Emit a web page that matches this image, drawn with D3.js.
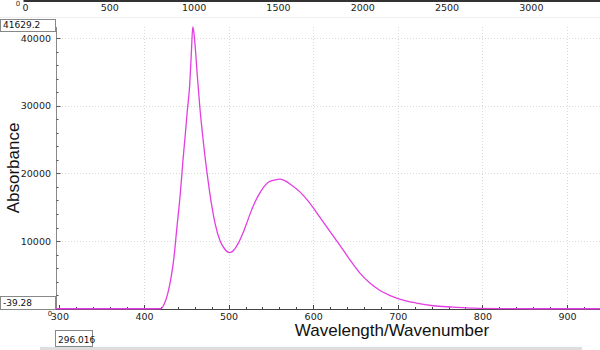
<!DOCTYPE html>
<html><head><meta charset="utf-8">
<script src="https://cdn.jsdelivr.net/npm/d3@7"></script>
<style>body{margin:0;background:#fff}svg{display:block}</style>
</head><body><svg id="c" width="600" height="350"></svg>
<script>
const wavelengths = [296,320,350,380,400,415,420,424,428,432,435,439,443,446,449,451,454,456,457.7,459,461,463,466,469,472,476,480,484,490,495,501,503,506,509,512,515,518,521,526,531,536,541,547,554,561,567,573,584,596,608,620,632,643,655,667,679,691,702,722,742,765,790,820,860,900,939];
const absorbance = [0,0,0,0,0,0,20,700,2200,4600,7100,12100,17100,21800,26000,29000,33000,37800,41629,40800,38000,34500,29800,26000,22600,18700,15300,12600,10000,8900,8300,8350,8650,9150,9800,10600,11500,12500,14200,15700,16900,17900,18700,19000,19150,18900,18400,17300,15600,13500,11400,9300,7300,5300,3800,2700,1950,1430,840,440,250,80,20,0,0,0];
const xTicks = [300,400,500,600,700,800,900];
const yTicks = [10000,20000,30000,40000];
const topTicks = [0,500,1000,1500,2000,2500,3000];
const xMin = 296.016, xMax = 939, yMin = -39.28, yMax = 41629.2;

const svg = d3.select("#c");
const L = 56, R = 600, T = 27, B = 309;
const x = d3.scaleLinear().domain([xMin, xMax]).range([L, R]);
const y = d3.scaleLinear().domain([yMin, yMax]).range([B, T]);
const xt = d3.scaleLinear().domain([-12, 3410]).range([23, 600]);

// panel separator
svg.append("line").attr("x1",0).attr("x2",600).attr("y1",17.5).attr("y2",17.5).attr("stroke","#eee");

// grid
const g = svg.append("g");
g.selectAll(".vg").data(xTicks.filter(d=>d>300)).join("line")
  .attr("x1",d=>Math.round(x(d))+0.5).attr("x2",d=>Math.round(x(d))+0.5)
  .attr("y1",T).attr("y2",B).attr("stroke","#d8d8d8").attr("stroke-dasharray","1,2");
g.selectAll(".hg").data(yTicks).join("line")
  .attr("y1",d=>Math.round(y(d))+0.5).attr("y2",d=>Math.round(y(d))+0.5)
  .attr("x1",L).attr("x2",R).attr("stroke","#d8d8d8").attr("stroke-dasharray","1,2");

// top axis
const topAxis = d3.axisBottom(xt).tickValues(topTicks).tickSize(0).tickPadding(4).tickFormat(d3.format("d"));
const ta = svg.append("g").attr("transform","translate(0,0.5)").call(topAxis);
ta.select(".domain").attr("stroke","#333").attr("stroke-width",2);
ta.selectAll("text").attr("font-family","DejaVu Sans").attr("font-size",9.5).attr("fill","#222");
svg.append("text").attr("x",18).attr("y",6).attr("text-anchor","middle").attr("font-family","DejaVu Sans").attr("font-size",7).attr("fill","#333").text("0");

// left axis
const yMinor = d3.range(2000, 42000, 2000);
const la = svg.append("g").attr("transform",`translate(${L+0.5},0)`);
la.append("line").attr("x1",0).attr("x2",0).attr("y1",T).attr("y2",B).attr("stroke","#888");
la.selectAll(".ym").data(yMinor).join("line")
  .attr("x1",0).attr("x2",d=>d%10000===0?4:2)
  .attr("y1",d=>Math.round(y(d))+0.5).attr("y2",d=>Math.round(y(d))+0.5).attr("stroke","#555");
const leftAxis = d3.axisLeft(y).tickValues(yTicks).tickSize(0).tickPadding(5).tickFormat(d3.format("d"));
const lag = svg.append("g").attr("transform",`translate(${L},0)`).call(leftAxis);
lag.select(".domain").remove();
lag.selectAll("text").attr("font-family","DejaVu Sans").attr("font-size",9.5).attr("fill","#222");

// bottom axis
const xMinor = d3.range(300, 940, 20);
const ba = svg.append("g");
ba.append("line").attr("x1",L).attr("x2",R).attr("y1",B+0.5).attr("y2",B+0.5).attr("stroke","#444");
ba.selectAll(".xm").data(xMinor).join("line")
  .attr("x1",d=>Math.round(x(d))+0.5).attr("x2",d=>Math.round(x(d))+0.5)
  .attr("y1",B).attr("y2",d=>d%100===0?B-4:B-2).attr("stroke","#444");
const bottomAxis = d3.axisBottom(x).tickValues(xTicks).tickSize(0).tickPadding(4);
const bag = svg.append("g").attr("transform",`translate(0,${B+0.5})`).call(bottomAxis);
bag.select(".domain").remove();
bag.selectAll("text").attr("font-family","DejaVu Sans").attr("font-size",9.5).attr("fill","#222");
svg.append("text").attr("x",50).attr("y",316).attr("text-anchor","middle").attr("font-family","DejaVu Sans").attr("font-size",7).attr("fill","#333").text("0");

// curve
const pts = wavelengths.map((w,i)=>[w,absorbance[i]]);
svg.append("path").datum(pts)
  .attr("d", d3.line().x(d=>x(d[0])).y(d=>y(d[1])).curve(d3.curveMonotoneX))
  .attr("fill","none").attr("stroke","#e23ee2").attr("stroke-width",1.3);

// value boxes
function box(bx,by,w,h,txt){
  svg.append("rect").attr("x",bx+0.5).attr("y",by+0.5).attr("width",w).attr("height",h)
    .attr("fill","#fff").attr("stroke","#888");
  svg.append("text").attr("x",bx+3).attr("y",by+h-3).attr("font-family","DejaVu Sans")
    .attr("font-size",9).attr("fill","#111").text(txt);
}
box(0,19,55,12,d3.format(".1f")(yMax));
box(0,296,55,13,String(yMin));
box(55,330,37,16,String(xMin));

// axis titles
svg.append("text").attr("x",392).attr("y",336).attr("text-anchor","middle")
  .attr("font-family","Liberation Sans").attr("font-size",17).attr("fill","#111").text("Wavelength/Wavenumber");
svg.append("text").attr("transform","translate(19,168) rotate(-90)").attr("text-anchor","middle")
  .attr("font-family","Liberation Sans").attr("font-size",17).attr("fill","#111").text("Absorbance");

// scrollbar
svg.append("rect").attr("x",40).attr("y",347).attr("width",542).attr("height",3).attr("fill","#ddd");
</script></body></html>
